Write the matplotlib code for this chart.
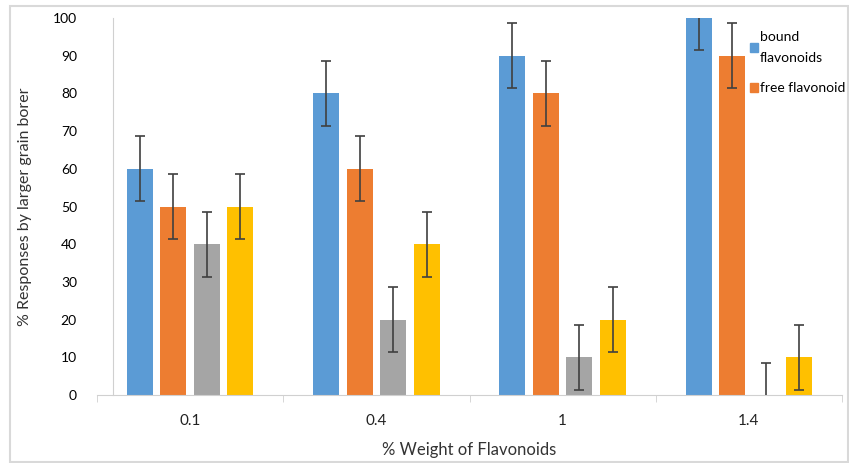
import matplotlib
matplotlib.use("Agg")
import matplotlib.pyplot as plt
from matplotlib.patches import Rectangle, Patch
from matplotlib import font_manager
import numpy as np

categories = ["0.1", "0.4", "1", "1.4"]
series_names = ["bound\nflavonoids", "free flavonoid", "series 3", "series 4"]
bound = [60, 80, 90, 100]
free = [50, 60, 80, 90]
series3 = [40, 20, 10, 0]
series4 = [50, 40, 20, 10]
err = [8.6, 8.6, 8.6, 8.6]
yticks = [0, 10, 20, 30, 40, 50, 60, 70, 80, 90, 100]

colors = ["#5B9BD5", "#ED7D31", "#A5A5A5", "#FFC000"]
plt.rcParams['font.family'] = ['Lato', 'DejaVu Sans']
names = {f.name for f in font_manager.fontManager.ttflist}
legend_family = 'Liberation Sans Narrow' if 'Liberation Sans Narrow' in names else 'Lato'
legend_size = 11.5 if legend_family == 'Liberation Sans Narrow' else 10

fig = plt.figure(figsize=(8.49, 4.63), dpi=100)
ax = fig.add_axes([97/849, 68/463, 745/849, (395-18)/463])

x = np.arange(len(categories))
offsets = [-0.27, -0.09, 0.09, 0.27]
width = 0.139
for vals, off, c in zip([bound, free, series3, series4], offsets, colors):
    ax.bar(x + off, vals, width=width, color=c, zorder=2)
    ax.errorbar(x + off, vals, yerr=err, fmt='none', ecolor='#404040',
                elinewidth=1.2, capsize=3.5, capthick=1.2, zorder=3)

ax.set_xlim(-0.5, 3.5)
ax.set_ylim(0, 100)
ax.set_yticks(yticks)
ax.set_yticklabels([str(v) for v in yticks], fontsize=11, color='#222222')
ax.tick_params(axis='y', length=0, pad=26)
ax.set_xticks(x)
ax.set_xticklabels(categories, fontsize=11, color='#222222')
ax.set_xticks(np.arange(-0.5, 4.0, 1.0), minor=True)
ax.tick_params(axis='x', which='major', length=0, pad=14)
ax.tick_params(axis='x', which='minor', length=5, color='#D0D0D0', direction='out')

for s in ['top', 'right']:
    ax.spines[s].set_visible(False)
ax.spines['bottom'].set_color('#D0D0D0')
ax.spines['left'].set_color('#D0D0D0')
ax.spines['left'].set_position(('data', -0.414))
ax.spines['left'].set_bounds(0, 100)

ax.set_ylabel("% Responses by larger grain borer", fontsize=11.5, color='#333333')
ax.yaxis.set_label_coords(-65/745, 0.5)
ax.set_xlabel("% Weight of Flavonoids", fontsize=12, color='#333333', labelpad=10)

handles = [Patch(color=colors[0]), Patch(color=colors[1])]
leg = ax.legend(handles, series_names[:2], loc='upper left',
                bbox_to_anchor=(743/849, 1 - 24/463), bbox_transform=fig.transFigure,
                frameon=False, prop={'family': legend_family, 'size': legend_size},
                handlelength=0.6, handleheight=0.6,
                handletextpad=0.1, labelspacing=1.3, borderpad=0)
for t in leg.get_texts():
    t.set_linespacing(1.9)

fig.patches.append(Rectangle((10/849, 1/463), 838/849, 456/463, transform=fig.transFigure,
                             fill=False, edgecolor='#D9D9D9', linewidth=1.5))

fig.savefig("out.png", dpi=100)
